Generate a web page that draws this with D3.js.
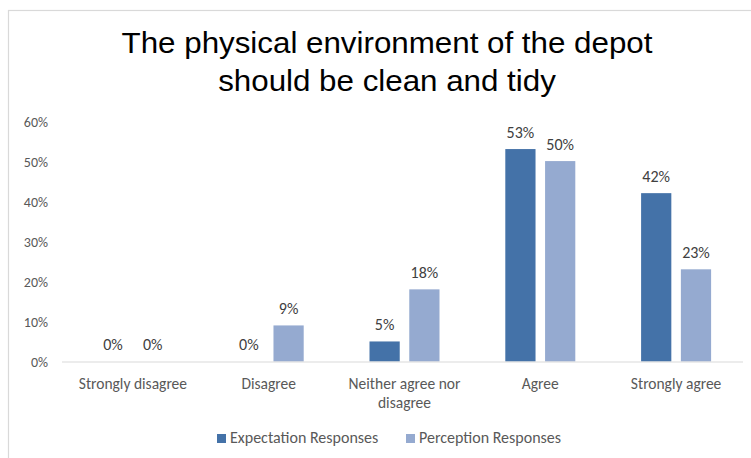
<!DOCTYPE html>
<html>
<head>
<meta charset="utf-8">
<script src="https://cdn.jsdelivr.net/npm/d3@7"></script>
<style>
  html, body { margin: 0; padding: 0; background: #ffffff; }
  svg { display: block; }
</style>
</head>
<body>
<svg id="chart" width="751" height="458"></svg>
<script>
// Survey responses: share of respondents per agreement level
const categories = ["Strongly disagree", "Disagree", "Neither agree nor disagree", "Agree", "Strongly agree"];
const seriesNames = ["Expectation Responses", "Perception Responses"];
const expectationValues = [0, 0, 5, 53, 42];
const perceptionValues = [0, 9, 18, 50, 23];
const yTicks = [0, 10, 20, 30, 40, 50, 60];
const titleLines = ["The physical environment of the depot", "should be clean and tidy"];

const colors = ["#4472a8", "#95aad0"];
const seriesValues = [expectationValues, perceptionValues];

const svg = d3.select("#chart");
const W = 751, H = 458;
const margin = { left: 65, right: 7 };

// Chart area frame
svg.append("rect")
  .attr("x", 8.5).attr("y", 10.5)
  .attr("width", 770).attr("height", 470)
  .attr("fill", "#fff").attr("stroke", "#d9d9d9").attr("stroke-width", 1.2);

// Title (slightly widened horizontally)
const titleG = svg.append("g").attr("transform", "translate(387,0) scale(1.08,1)");
const title = titleG.append("text")
  .attr("text-anchor", "middle")
  .attr("font-family", "'Liberation Sans', Arial, sans-serif")
  .attr("font-size", 29)
  .attr("fill", "#000");
titleLines.forEach((t, i) => {
  title.append("tspan").attr("x", 0).attr("y", 53.5 + i * 37.5).text(t);
});

const x0 = d3.scaleBand()
  .domain(categories)
  .range([margin.left, W - margin.right])
  .paddingInner(0).paddingOuter(0);

const bw = x0.bandwidth();
const groupW = 70;
const x1 = d3.scaleBand()
  .domain(seriesNames)
  .range([(bw - groupW) / 2, (bw + groupW) / 2])
  .paddingInner(0.24);

const y = d3.scaleLinear().domain([0, 60]).range([361.5, 121]);

const tickFont = "Carlito, Lato, 'Liberation Sans', sans-serif";

// Y axis labels (no axis line, no gridlines)
const yAxis = d3.axisLeft(y)
  .tickValues(yTicks)
  .tickFormat(d => d + "%")
  .tickSize(0)
  .tickPadding(0);
const yG = svg.append("g").attr("transform", "translate(48,1)").call(yAxis);
yG.select(".domain").remove();
yG.selectAll("text")
  .attr("font-family", tickFont)
  .attr("font-size", 14)
  .attr("fill", "#595959");

// Bars
const rows = categories.map((c, i) => ({
  category: c,
  values: seriesNames.map((s, j) => ({ series: s, idx: j, value: seriesValues[j][i] }))
}));

const groups = svg.append("g").selectAll("g")
  .data(rows).join("g")
  .attr("transform", d => `translate(${x0(d.category)},0)`);

groups.selectAll("rect")
  .data(d => d.values).join("rect")
  .attr("x", d => x1(d.series))
  .attr("y", d => y(d.value))
  .attr("width", x1.bandwidth())
  .attr("height", d => y(0) - y(d.value))
  .attr("fill", d => colors[d.idx]);

// Value labels
groups.selectAll("text.val")
  .data(d => d.values).join("text")
  .attr("class", "val")
  .attr("x", d => x1(d.series) + x1.bandwidth() / 2)
  .attr("y", d => y(d.value) - 11.5)
  .attr("text-anchor", "middle")
  .attr("font-family", tickFont)
  .attr("font-size", 16)
  .attr("fill", "#404040")
  .text(d => d.value + "%");

// X axis baseline
const xAxis = d3.axisBottom(x0).tickSize(0).tickFormat("");
const xG = svg.append("g").attr("transform", `translate(0,${y(0) + 0.5})`).call(xAxis);
xG.select(".domain").attr("stroke", "#d9d9d9").attr("stroke-width", 1.2)
  .attr("d", `M${margin.left - 3},0H${W - 8}`);

// Category labels (wrapped)
const catLines = {
  "Neither agree nor disagree": ["Neither agree nor", "disagree"]
};
categories.forEach(c => {
  const lines = catLines[c] || [c];
  const t = svg.append("text")
    .attr("text-anchor", "middle")
    .attr("font-family", tickFont)
    .attr("font-size", 15.5)
    .attr("fill", "#595959");
  lines.forEach((l, i) => {
    t.append("tspan")
      .attr("x", x0(c) + bw / 2)
      .attr("y", 389 + i * 18.5)
      .text(l);
  });
});

// Legend
const legend = svg.append("g");
const legendX = [217, 406];
seriesNames.forEach((s, i) => {
  legend.append("rect")
    .attr("x", legendX[i]).attr("y", 434)
    .attr("width", 9).attr("height", 9)
    .attr("fill", colors[i]);
  legend.append("text")
    .attr("x", legendX[i] + 13).attr("y", 443)
    .attr("font-family", tickFont)
    .attr("font-size", 16)
    .attr("fill", "#595959")
    .text(s);
});
</script>
</body>
</html>
